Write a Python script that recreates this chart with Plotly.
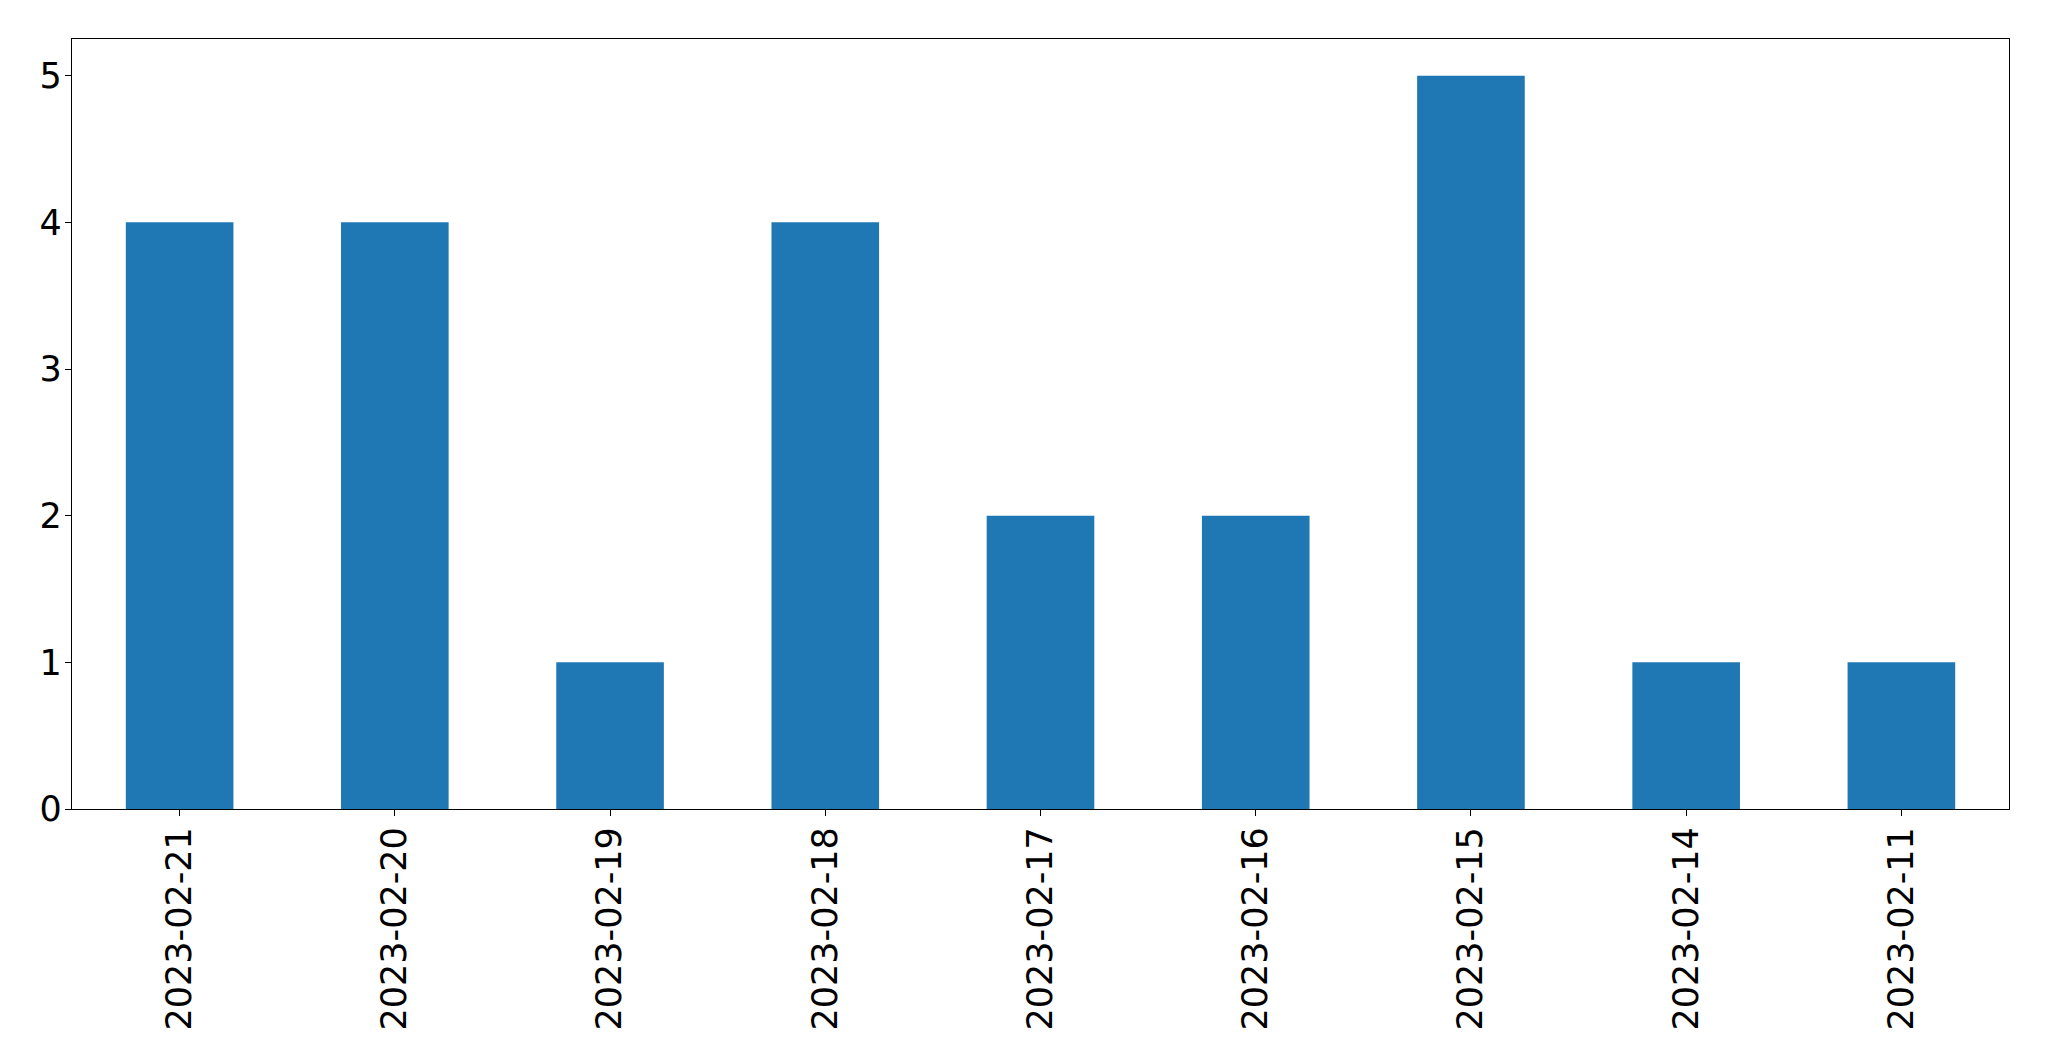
import plotly.graph_objects as go

dates = ["2023-02-21", "2023-02-20", "2023-02-19", "2023-02-18", "2023-02-17",
         "2023-02-16", "2023-02-15", "2023-02-14", "2023-02-11"]
counts = [4, 4, 1, 4, 2, 2, 5, 1, 1]
y_ticks = [0, 1, 2, 3, 4, 5]

fig = go.Figure(go.Bar(x=dates, y=counts, marker_color="#1f77b4",
                       marker_line_width=0, width=0.5))

fig.update_layout(
    width=2041, height=1053,
    margin=dict(l=64, r=40, t=31, b=252, autoexpand=False),
    plot_bgcolor="white", paper_bgcolor="white",
    font=dict(family="DejaVu Sans", size=35, color="black"),
    showlegend=False,
)
fig.update_xaxes(type="category", range=[-0.5, len(dates) - 0.5], tickangle=-90,
                 showline=True, linecolor="black", linewidth=1.3, mirror=True,
                 ticks="outside", ticklen=6, tickwidth=1.3, tickcolor="black",
                 ticklabelstandoff=-3,
                 showgrid=False, zeroline=False)
fig.update_yaxes(range=[0, 5.25], tickvals=y_ticks,
                 showline=True, linecolor="black", linewidth=1.3, mirror=True,
                 ticks="outside", ticklen=6, tickwidth=1.3, tickcolor="black",
                 ticklabelstandoff=-4,
                 showgrid=False, zeroline=False)

fig.write_html("out.html")
